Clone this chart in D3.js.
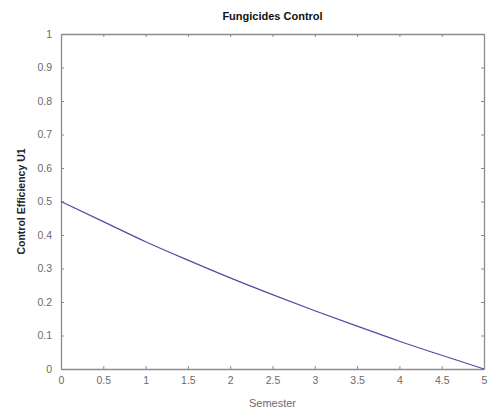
<!DOCTYPE html>
<html><head><meta charset="utf-8">
<script src="https://cdn.jsdelivr.net/npm/d3@7"></script>
<style>body{margin:0;background:#fff;}svg{display:block;}</style>
</head><body>
<script>
const semester = [0, 0.5, 1.0, 1.5, 2.0, 2.5, 3.0, 3.5, 4.0, 4.5, 5.0];
const efficiency = [0.5, 0.44, 0.38, 0.325, 0.272, 0.222, 0.174, 0.128, 0.083, 0.041, 0.0];
const xTicks = [0, 0.5, 1, 1.5, 2, 2.5, 3, 3.5, 4, 4.5, 5];
const yTicks = [0, 0.1, 0.2, 0.3, 0.4, 0.5, 0.6, 0.7, 0.8, 0.9, 1];
const title = "Fungicides Control";
const xLabel = "Semester";
const yLabel = "Control Efficiency U1";

const W = 491, H = 412;
const m = {left: 61, right: 7, top: 34, bottom: 43};
const svg = d3.select("body").append("svg").attr("width", W).attr("height", H);
const x = d3.scaleLinear().domain([0, 5]).range([m.left, W - m.right]);
const y = d3.scaleLinear().domain([0, 1]).range([H - m.bottom, m.top]);
const axisColor = "#8c8c8c";
const textColor = "#6b6b6b";
const fmt = d => String(d);

function style(g) {
  g.select(".domain").attr("stroke", axisColor).attr("stroke-width", 1.3);
  g.selectAll(".tick line").attr("stroke", axisColor);
  g.selectAll(".tick text").attr("fill", textColor).attr("font-family", "Liberation Sans, Arial, sans-serif").attr("font-size", 10.5);
}
svg.append("g").attr("transform", `translate(0,${y(0)})`)
  .call(d3.axisBottom(x).tickValues(xTicks).tickFormat(fmt).tickSizeInner(-3).tickSizeOuter(0).tickPadding(8)).call(style);
svg.append("g").attr("transform", `translate(0,${y(1)})`)
  .call(d3.axisTop(x).tickValues(xTicks).tickFormat("").tickSizeInner(-3).tickSizeOuter(0)).call(style);
svg.append("g").attr("transform", `translate(${x(0)},0)`)
  .call(d3.axisLeft(y).tickValues(yTicks).tickFormat(fmt).tickSizeInner(-3).tickSizeOuter(0).tickPadding(9)).call(style);
svg.append("g").attr("transform", `translate(${x(5)},0)`)
  .call(d3.axisRight(y).tickValues(yTicks).tickFormat("").tickSizeInner(-3).tickSizeOuter(0)).call(style);

const data = semester.map((s, i) => ({s, v: efficiency[i]}));
svg.append("path").datum(data)
  .attr("fill", "none").attr("stroke", "#4d4da3").attr("stroke-width", 1.2)
  .attr("d", d3.line().x(d => x(d.s)).y(d => y(d.v)).curve(d3.curveMonotoneX));

svg.append("text").attr("x", (x(0) + x(5)) / 2).attr("y", 20).attr("text-anchor", "middle")
  .attr("font-family", "Liberation Sans, Arial, sans-serif").attr("font-weight", "bold").attr("font-size", 11).attr("fill", "#111")
  .text(title);
svg.append("text").attr("x", (x(0) + x(5)) / 2).attr("y", 407).attr("text-anchor", "middle")
  .attr("font-family", "Liberation Sans, Arial, sans-serif").attr("font-size", 11).attr("fill", textColor)
  .text(xLabel);
svg.append("text").attr("transform", `translate(25,${(y(0) + y(1)) / 2}) rotate(-90)`).attr("text-anchor", "middle")
  .attr("font-family", "Liberation Sans, Arial, sans-serif").attr("font-weight", "bold").attr("font-size", 10.5).attr("fill", "#222")
  .text(yLabel);
</script>
</body></html>
